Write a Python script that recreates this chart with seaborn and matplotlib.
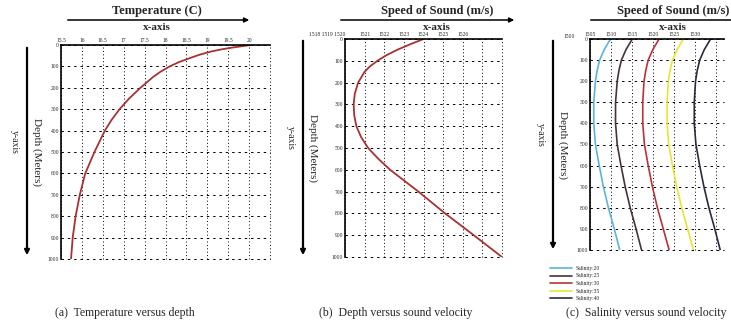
import matplotlib
matplotlib.use("Agg")
import matplotlib.pyplot as plt
import seaborn as sns

# depths (m)
depth_a = [0, 5, 12, 20, 30, 45, 60, 80, 100, 125, 150, 200, 250, 300, 350, 400, 500, 600, 700, 800, 900, 1000]
temperature = [20.05, 19.85, 19.6, 19.35, 19.1, 18.82, 18.6, 18.32, 18.1, 17.88, 17.7, 17.4, 17.13, 16.9, 16.71,
               16.55, 16.3, 16.08, 15.95, 15.85, 15.78, 15.74]

depth_b = [0, 25, 50, 75, 100, 125, 150, 200, 250, 300, 350, 400, 450, 500, 550, 600, 700, 800, 900, 1000]
speed_b = [1524.0, 1523.3, 1522.65, 1522.1, 1521.65, 1521.28, 1521.0, 1520.67, 1520.5, 1520.44, 1520.47,
           1520.58, 1520.82, 1521.18, 1521.7, 1522.3, 1523.74, 1525.1, 1526.56, 1528.0]

depth_c = [0, 50, 100, 150, 200, 300, 400, 500, 600, 700, 800, 900, 1000]
sal_20 = [1509.9, 1508.4, 1507.3, 1506.7, 1506.3, 1505.9, 1505.9, 1506.3, 1507.2, 1508.2, 1509.4, 1510.8, 1512.1]
sal_25 = [1515.1, 1513.6, 1512.5, 1511.9, 1511.5, 1511.1, 1511.1, 1511.5, 1512.4, 1513.4, 1514.6, 1516.0, 1517.3]
sal_30 = [1521.5, 1520.0, 1518.9, 1518.3, 1517.9, 1517.6, 1517.6, 1518.0, 1518.9, 1519.9, 1521.1, 1522.5, 1523.9]
sal_35 = [1527.3, 1525.8, 1524.7, 1524.1, 1523.7, 1523.4, 1523.4, 1523.8, 1524.7, 1525.7, 1526.9, 1528.3, 1529.7]
sal_40 = [1533.8, 1532.3, 1531.2, 1530.6, 1530.2, 1529.9, 1529.9, 1530.3, 1531.2, 1532.2, 1533.4, 1534.8, 1536.1]
sal_labels = ["Salinity:20", "Salinity:25", "Salinity:30", "Salinity:35", "Salinity:40"]
sal_colors = ["#5ab4dc", "#4a3232", "#b8323c", "#e6e632", "#2a2a44"]

depth_ticks = [0, 100, 200, 300, 400, 500, 600, 700, 800, 900, 1000]
temp_ticks = [15.5, 16, 16.5, 17, 17.5, 18, 18.5, 19, 19.5, 20, 20.5]
temp_labels = ["15.5", "16", "16.5", "17", "17.5", "18", "18.5", "19", "19.5", "20", ""]
speed_b_ticks = [1520, 1521, 1522, 1523, 1524, 1525, 1526, 1527, 1528]
speed_b_labels = ["1518 1519 1520", "1521", "1522", "1523", "1524", "1525", "1526", "", ""]
speed_c_ticks = [1505, 1510, 1515, 1520, 1525, 1530, 1535]
speed_c_labels = ["1505", "1510", "1515", "1520", "1525", "1530", ""]

sns.set_style("white")
plt.rcParams['font.family'] = ['Liberation Serif', 'DejaVu Serif']

W, H = 731, 327
fig = plt.figure(figsize=(W / 100, H / 100), dpi=100)


def px(x, y):
    return x / W, 1 - y / H


def make_ax(left, top, right, bottom):
    return fig.add_axes([left / W, 1 - bottom / H, (right - left) / W, (bottom - top) / H])


def style_ax(ax, xlim, xticks, xlabels):
    ax.set_xlim(*xlim)
    ax.set_ylim(1000, 0)
    ax.xaxis.tick_top()
    ax.set_xticks(xticks)
    ax.set_xticklabels(xlabels)
    ax.set_yticks(depth_ticks)
    ax.set_yticklabels([str(d) for d in depth_ticks])
    ax.tick_params(axis='both', length=0, labelsize=4, pad=1.5)
    ax.xaxis.grid(True, linestyle=(0, (1, 2.5)), color='k', lw=0.7)
    ax.yaxis.grid(True, linestyle=(0, (2.5, 4)), color='k', lw=0.7)
    for gl in ax.get_xgridlines() + ax.get_ygridlines():
        gl.set_clip_on(False)
    for s in ['right', 'bottom']:
        ax.spines[s].set_visible(False)
    for s in ['top', 'left']:
        ax.spines[s].set_color('k')
        ax.spines[s].set_linewidth(1.2)
    ax.set_xlabel('')
    ax.set_ylabel('')


def headers(cx, title, x0, x1, arrow=True):
    fig.text(*px(cx, 11), title, ha='center', va='center', fontsize=9, fontweight='bold')
    fig.text(*px(cx, 27), "x-axis", ha='center', va='center', fontsize=8, fontweight='bold')
    style = '-|>' if arrow else '-'
    fig.add_artist(matplotlib.patches.FancyArrowPatch(px(x0, 20), px(x1, 20), transform=fig.transFigure,
                                                      arrowstyle=style, mutation_scale=7, lw=1.1, color='k'))


def yheaders(ax_x, top, bottom):
    fig.add_artist(matplotlib.patches.FancyArrowPatch(px(ax_x, top), px(ax_x, bottom), transform=fig.transFigure,
                                                      arrowstyle='-|>', mutation_scale=7, lw=1.6, color='k'))
    fig.text(*px(ax_x + 10, (top + bottom) / 2), "Depth (Meters)", rotation=270,
             ha='center', va='center', fontsize=8)
    fig.text(*px(ax_x - 13, (top + bottom) / 2 - 10), "y-axis", rotation=270,
             ha='center', va='center', fontsize=7)


# (a) temperature versus depth
ax_a = make_ax(61, 45, 270, 259)
sns.lineplot(x=temperature, y=depth_a, sort=False, estimator=None, color='#a83232', lw=1.3, ax=ax_a)
style_ax(ax_a, (15.5, 20.5), temp_ticks, temp_labels)
headers(157, "Temperature (C)", 65, 252)
yheaders(27, 45, 258)

# (b) depth versus sound velocity
ax_b = make_ax(345, 39, 502, 257)
sns.lineplot(x=speed_b, y=depth_b, sort=False, estimator=None, color='#a83232', lw=1.3, ax=ax_b)
style_ax(ax_b, (1520, 1528), speed_b_ticks, speed_b_labels)
ax_b.get_xticklabels()[0].set_ha('right')
headers(437, "Speed of Sound (m/s)", 338, 517)
yheaders(303, 38, 258)

# (c) salinity versus sound velocity
ax_c = make_ax(590, 39, 724, 250)
for vals, lab, col in zip([sal_20, sal_25, sal_30, sal_35, sal_40], sal_labels, sal_colors):
    sns.lineplot(x=vals, y=depth_c, sort=False, estimator=None, color=col, lw=1.2, label=lab, ax=ax_c)
style_ax(ax_c, (1505, 1537), speed_c_ticks, speed_c_labels)
ax_c.text(1500, 1.0, "1500", transform=ax_c.get_xaxis_transform(), ha='center', va='bottom',
          fontsize=4, clip_on=False)
headers(673, "Speed of Sound (m/s)", 588, 735, arrow=False)
yheaders(553, 38, 252)
ax_c.legend(loc='upper left', bbox_to_anchor=px(550, 266), bbox_transform=fig.transFigure,
            fontsize=4, frameon=False, handlelength=4, labelspacing=0.45, handletextpad=0.6,
            borderaxespad=0, borderpad=0)

# captions
fig.text(*px(125, 313), "(a)  Temperature versus depth", ha='center', va='center', fontsize=8.5)
fig.text(*px(396, 313), "(b)  Depth versus sound velocity", ha='center', va='center', fontsize=8.5)
fig.text(*px(646, 313), "(c)  Salinity versus sound velocity", ha='center', va='center', fontsize=8.5)

fig.savefig("out.png", dpi=100)
